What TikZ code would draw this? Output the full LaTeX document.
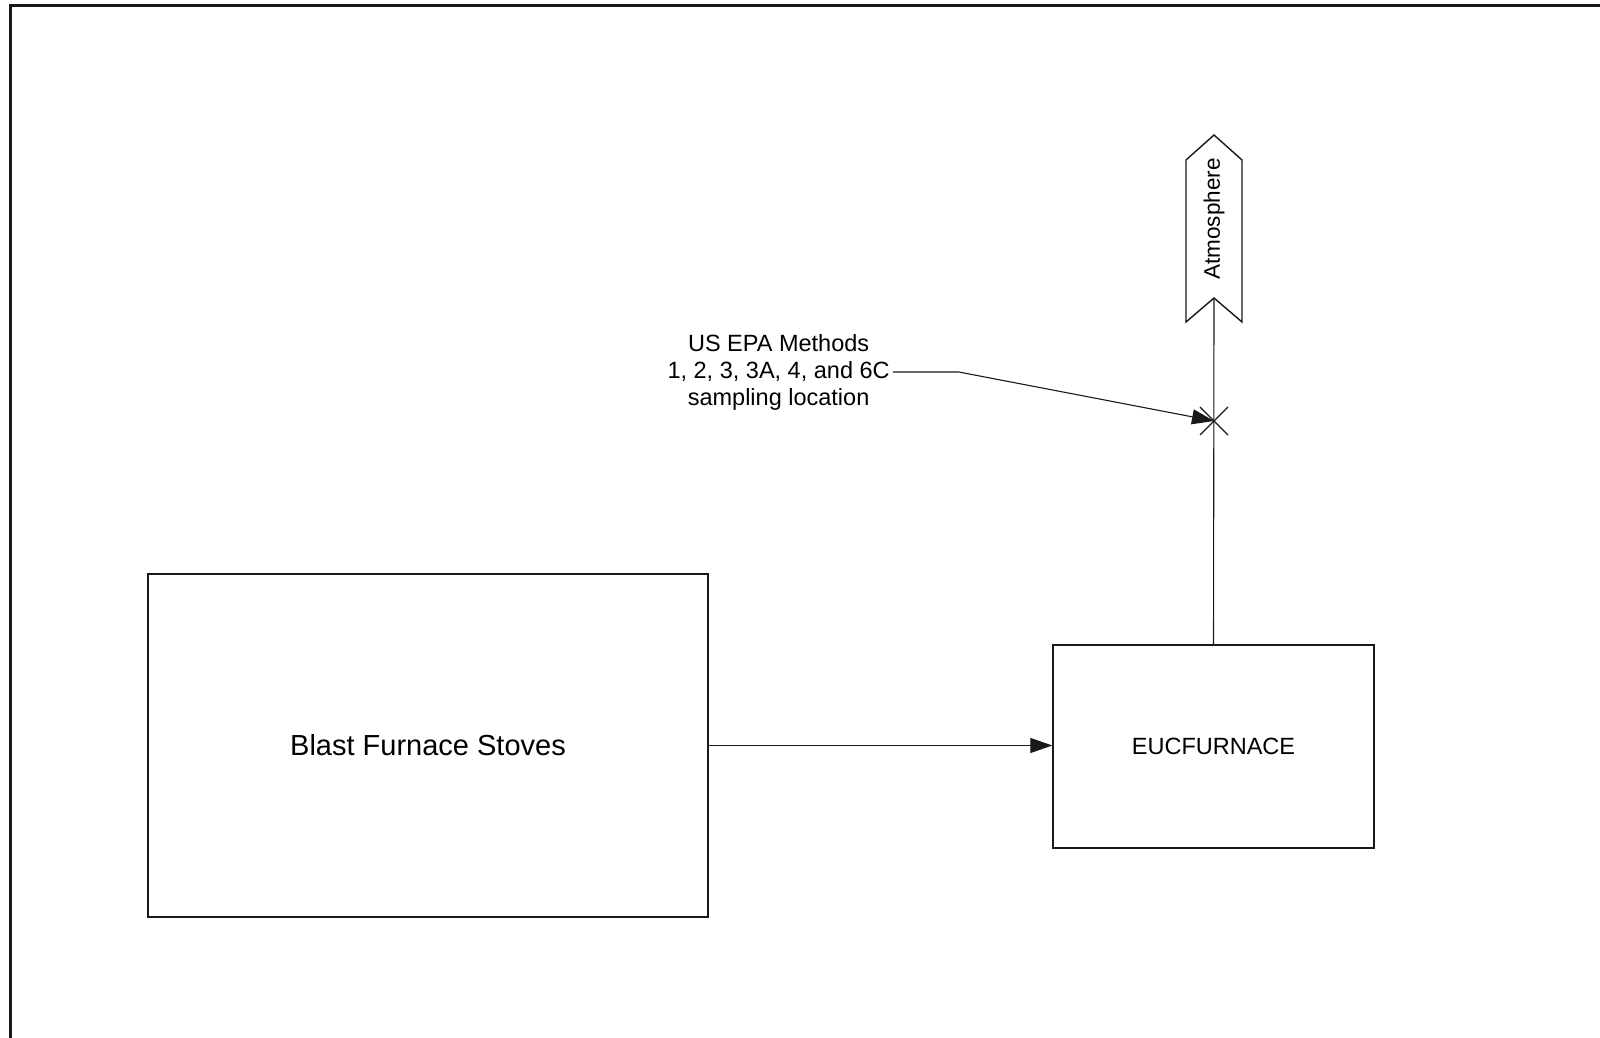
\documentclass[tikz,border=0pt]{standalone}
\usepackage{fontspec}
\setmainfont{Liberation Sans}
\usetikzlibrary{arrows.meta}
\begin{document}
\begin{tikzpicture}[x=1pt,y=-1pt,
  box/.style={draw=black!90, line width=1.4pt, inner sep=0pt},
  conn/.style={draw=black!90, line width=1.1pt},
  tip/.style={-{Triangle[length=22pt,width=15pt]}}]
\useasboundingbox (0,0) rectangle (1600,1038);
\clip (0,0) rectangle (1600,1038);
\draw[line width=3pt, black!90] (10.5,6) rectangle (1700,1200);
% boxes
\node[box, minimum width=560pt, minimum height=343pt, font=\fontsize{29}{34}\selectfont] (bfs) at (428,745.5) {Blast Furnace Stoves};
\node[box, minimum width=321pt, minimum height=203pt, font=\fontsize{23.5}{28}\selectfont] (euc) at (1213.5,746.5) {EUCFURNACE};
% atmosphere shape
\coordinate (notch) at (1214,298);
\filldraw[box, fill=white] (1214,135) -- (1242,160) -- (1242,322) -- (notch) -- (1186,322) -- (1186,160) -- cycle;
\node[rotate=90, font=\fontsize{22.5}{27}\selectfont] (atm) at (1214,219) {Atmosphere};
% stack line
\draw[conn] (euc.north) -- (notch);
% main arrow
\draw[conn, tip] (bfs.east) -- (bfs.east -| euc.west);
% sampling point
\coordinate (samp) at (1214,421);
\draw[conn] ([shift={(-14,-14)}]samp) -- ([shift={(14,14)}]samp);
\draw[conn] ([shift={(-14,14)}]samp) -- ([shift={(14,-14)}]samp);
% label and leader
\node[align=center, font=\fontsize{23.5}{27}\selectfont, inner sep=3pt] (lbl) at (778.6,372) {US EPA Methods\\1, 2, 3, 3A, 4, and 6C\\sampling location};
\draw[conn, tip] (lbl.east) -- ++(66,0) -- (samp);
\end{tikzpicture}
\end{document}
